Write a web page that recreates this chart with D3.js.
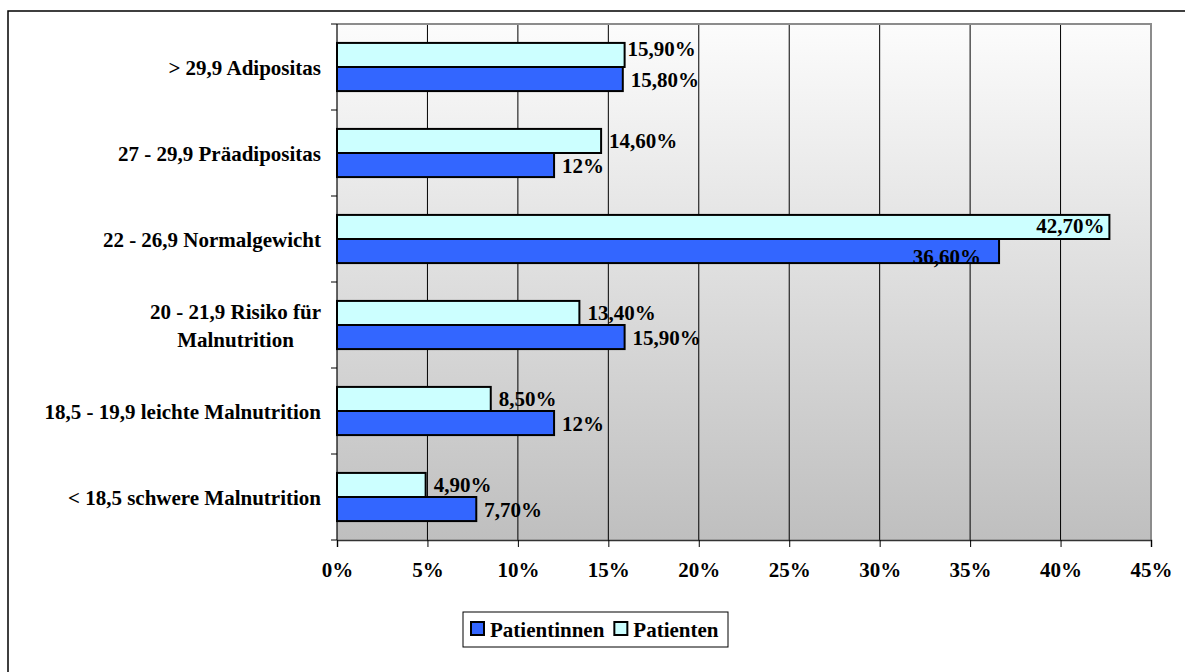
<!DOCTYPE html>
<html>
<head>
<meta charset="utf-8">
<script src="https://cdn.jsdelivr.net/npm/d3@7"></script>
<style>
  html, body { margin: 0; padding: 0; background: #fff; }
  svg { display: block; }
  text { font-family: "Liberation Serif", "Times New Roman", serif; font-weight: bold; fill: #000; }
</style>
</head>
<body>
<svg id="chart" width="1185" height="672"></svg>
<script>
// BMI classes, top to bottom
const categories = [
  "> 29,9 Adipositas",
  "27 - 29,9 Präadipositas",
  "22 - 26,9 Normalgewicht",
  "20 - 21,9 Risiko für|Malnutrition",
  "18,5 - 19,9 leichte Malnutrition",
  "< 18,5 schwere Malnutrition"
];
const seriesNames = ["Patienten", "Patientinnen"];
const patienten    = [15.9, 14.6, 42.7, 13.4, 8.5, 4.9];
const patientinnen = [15.8, 12.0, 36.6, 15.9, 12.0, 7.7];
const xTicks = [0, 5, 10, 15, 20, 25, 30, 35, 40, 45];
const legendOrder = ["Patientinnen", "Patienten"];

const colors = { "Patienten": "#CCFFFF", "Patientinnen": "#3366FF" };
const FONT = 21;

const svg = d3.select("#chart");
const plot = { left: 337, right: 1151, top: 24, bottom: 540 };

// outer chart frame
svg.append("rect")
  .attr("x", 8).attr("y", 11).attr("width", 1200).attr("height", 700)
  .attr("fill", "#fff").attr("stroke", "#000").attr("stroke-width", 1.5);

const x = d3.scaleLinear().domain([0, 45]).range([plot.left, plot.right]);
const y = d3.scaleBand().domain(categories).range([plot.top, plot.bottom]).padding(0);
const bw = y.bandwidth();
const ySub = d3.scaleBand().domain(seriesNames).range([bw * 0.22, bw * 0.78]).padding(0);

// plot background gradient
const defs = svg.append("defs");
const grad = defs.append("linearGradient").attr("id", "bg")
  .attr("x1", 0).attr("y1", 0).attr("x2", 0).attr("y2", 1);
grad.append("stop").attr("offset", "0%").attr("stop-color", "#fcfcfc");
grad.append("stop").attr("offset", "100%").attr("stop-color", "#bfbfbf");

svg.append("rect")
  .attr("x", plot.left).attr("y", plot.top)
  .attr("width", plot.right - plot.left).attr("height", plot.bottom - plot.top)
  .attr("fill", "url(#bg)");

// vertical gridlines
svg.append("g").selectAll("line")
  .data(xTicks.filter(t => t > 0 && t < 45))
  .join("line")
  .attr("x1", d => x(d)).attr("x2", d => x(d))
  .attr("y1", plot.top).attr("y2", plot.bottom)
  .attr("stroke", "#000").attr("stroke-width", 1);

// plot frame, top and right
svg.append("path")
  .attr("d", `M${plot.left},${plot.top}H${plot.right}V${plot.bottom}`)
  .attr("fill", "none").attr("stroke", "#8c8c8c").attr("stroke-width", 2);

// bars
const rows = categories.map((c, i) => ({ cat: c, Patienten: patienten[i], Patientinnen: patientinnen[i] }));
const groups = svg.append("g").selectAll("g")
  .data(rows).join("g")
  .attr("transform", d => `translate(0,${y(d.cat)})`);

groups.selectAll("rect")
  .data(d => seriesNames.map(s => ({ s, v: d[s], cat: d.cat })))
  .join("rect")
  .attr("x", x(0))
  .attr("y", d => ySub(d.s))
  .attr("width", d => x(d.v) - x(0))
  .attr("height", ySub.bandwidth())
  .attr("fill", d => colors[d.s])
  .attr("stroke", "#000").attr("stroke-width", 2);

// value labels: outside the bar end, vertically centred; pulled inside when
// they would run past the plot, and nudged apart when two labels start together
const fmt = v => (Number.isInteger(v) ? String(v) : v.toFixed(2).replace(".", ",")) + "%";
groups.each(function (d) {
  const g = d3.select(this);
  const pos = {};
  let pulledIn = false;
  seriesNames.forEach(s => {
    const v = d[s];
    const t = g.append("text").style("font-size", FONT + "px").text(fmt(v));
    const w = t.node().getComputedTextLength();
    const top = ySub(s);
    let tx = x(v) + 8;
    let by = top + 19.5;
    if (tx + w > plot.right) {
      tx = x(v) - w - 5;
      by = top + 18;
      pulledIn = true;
    } else if (pulledIn) {
      tx = x(v) - w - 18;
      by = top + 25;
    }
    pos[s] = { t, tx, by };
  });
  const a = pos.Patienten, b = pos.Patientinnen;
  if (!pulledIn && Math.abs(a.tx - b.tx) < 20) {
    a.tx -= 5; a.by -= 6;
  }
  Object.values(pos).forEach(p => p.t.attr("x", p.tx).attr("y", p.by));
});

// y axis line and ticks at band edges
svg.append("line")
  .attr("x1", plot.left).attr("x2", plot.left)
  .attr("y1", plot.top).attr("y2", plot.bottom)
  .attr("stroke", "#000").attr("stroke-width", 1.2);
svg.append("g").selectAll("line")
  .data(categories.map(c => y(c)).concat([plot.bottom]))
  .join("line")
  .attr("x1", plot.left - 6).attr("x2", plot.left)
  .attr("y1", d => d).attr("y2", d => d)
  .attr("stroke", "#000").attr("stroke-width", 1);

// category labels (right aligned block, wrapped lines centred)
const labelRight = 321;
const lineH = 28;
categories.forEach(c => {
  const lines = c.split("|");
  const cy = y(c) + bw / 2;
  const g = svg.append("g");
  const texts = lines.map(l => g.append("text").style("font-size", FONT + "px").attr("text-anchor", "middle").text(l));
  const maxW = d3.max(texts, t => t.node().getComputedTextLength());
  const cx = labelRight - maxW / 2;
  const firstBase = cy + 8 - (lines.length - 1) * lineH / 2;
  texts.forEach((t, i) => t.attr("x", cx).attr("y", firstBase + i * lineH));
});

// x axis
const xAxis = d3.axisBottom(x).tickValues(xTicks).tickSize(7).tickFormat(d => d + "%");
const gx = svg.append("g").attr("transform", `translate(0,${plot.bottom})`).call(xAxis);
gx.select(".domain").attr("stroke", "#333").attr("stroke-width", 1.5);
gx.selectAll(".tick line").attr("stroke", "#000");
gx.selectAll(".tick text")
  .attr("fill", "#000")
  .attr("y", 37).attr("dy", null)
  .style("font-family", '"Liberation Serif", serif')
  .style("font-weight", "bold")
  .style("font-size", FONT + "px");

// legend
const lg = svg.append("g");
lg.append("rect")
  .attr("x", 463).attr("y", 612).attr("width", 265).attr("height", 35)
  .attr("fill", "#fff").attr("stroke", "#000").attr("stroke-width", 1);
let lx = 471;
legendOrder.forEach(name => {
  lg.append("rect")
    .attr("x", lx).attr("y", 622).attr("width", 13).attr("height", 13)
    .attr("fill", colors[name]).attr("stroke", "#000").attr("stroke-width", 2);
  const t = lg.append("text").style("font-size", FONT + "px").text(name)
    .attr("x", lx + 19).attr("y", 637);
  lx += 19 + t.node().getComputedTextLength() + 10;
});
</script>
</body>
</html>
